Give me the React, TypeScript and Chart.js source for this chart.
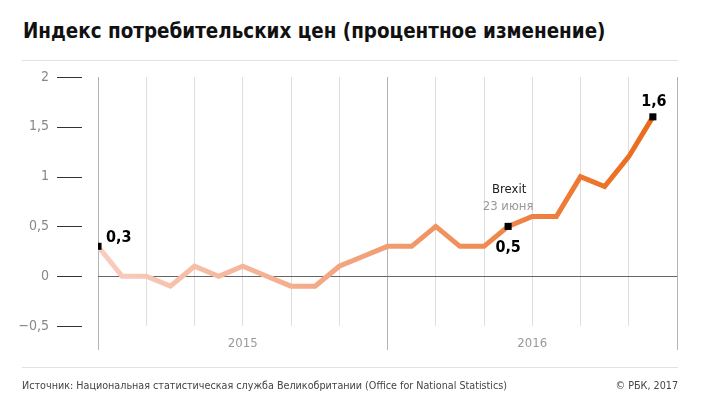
import React, { useEffect, useRef } from "react";
import { Chart, registerables } from "chart.js";

Chart.register(...registerables);

// ---- data ----
const months = [
  "янв 2015", "фев 2015", "мар 2015", "апр 2015", "май 2015", "июн 2015",
  "июл 2015", "авг 2015", "сен 2015", "окт 2015", "ноя 2015", "дек 2015",
  "янв 2016", "фев 2016", "мар 2016", "апр 2016", "май 2016", "июн 2016",
  "июл 2016", "авг 2016", "сен 2016", "окт 2016", "ноя 2016", "дек 2016",
];
const cpi = [
  0.3, 0.0, 0.0, -0.1, 0.1, 0.0, 0.1, 0.0, -0.1, -0.1, 0.1, 0.2,
  0.3, 0.3, 0.5, 0.3, 0.3, 0.5, 0.6, 0.6, 1.0, 0.9, 1.2, 1.6,
];
const yMin = -0.5;
const yMax = 2;
const yStep = 0.5;
const years = ["2015", "2016"];
const yearCenters = [6, 18];
const xMax = 24;
const markedIdx = [0, 17, 23];
const markedLabels = ["0,3", "0,5", "1,6"];
const brexitIdx = 17;
const brexitTitle = "Brexit";
const brexitDate = "23 июня";
const titleText = "Индекс потребительских цен (процентное изменение)";
const sourceText =
  "Источник: Национальная статистическая служба Великобритании (Office for National Statistics)";
const copyrightText = "© РБК, 2017";

const FONT = "'Liberation Sans Narrow', 'DejaVu Sans Condensed', 'Noto Sans', sans-serif";

const fmt = (v: number) => {
  const s = String(v).replace(".", ",");
  return v < 0 ? "\u2212" + s.replace("-", "") : s;
};

const decorPlugin = {
  id: "decor",
  afterDraw(chart: any) {
    const { ctx, chartArea, scales } = chart;
    const xs = scales.x;
    const ys = scales.y;
    ctx.save();
    // y tick marks
    ctx.strokeStyle = "#333";
    ctx.lineWidth = 1;
    ys.ticks.forEach((t: any) => {
      const py = Math.round(ys.getPixelForValue(t.value)) + 0.5;
      ctx.beginPath();
      ctx.moveTo(chartArea.left - 41, py);
      ctx.lineTo(chartArea.left - 16, py);
      ctx.stroke();
    });
    // year labels
    ctx.fillStyle = "#999";
    ctx.font = `13px ${FONT}`;
    ctx.textAlign = "center";
    ctx.textBaseline = "middle";
    years.forEach((y, i) => {
      ctx.fillText(y, xs.getPixelForValue(yearCenters[i]), chartArea.bottom + 18);
    });
    ctx.restore();
  },
  afterDatasetsDraw(chart: any) {
    const { ctx, scales } = chart;
    const xs = scales.x;
    const ys = scales.y;
    ctx.save();
    ctx.textBaseline = "alphabetic";
    ctx.font = `bold 16px ${FONT}`;
    ctx.fillStyle = "#000";
    markedIdx.forEach((idx, k) => {
      const px = xs.getPixelForValue(idx);
      const py = ys.getPixelForValue(cpi[idx]);
      if (k === 0) {
        ctx.textAlign = "left";
        ctx.fillText(markedLabels[k], px + 8, py - 4);
      } else if (idx === brexitIdx) {
        ctx.textAlign = "center";
        ctx.fillText(markedLabels[k], px, py + 26);
      } else {
        ctx.textAlign = "center";
        ctx.fillText(markedLabels[k], px + 1, py - 11);
      }
    });
    const bx = xs.getPixelForValue(brexitIdx);
    const by = ys.getPixelForValue(cpi[brexitIdx]);
    ctx.textAlign = "center";
    ctx.font = `13px ${FONT}`;
    ctx.fillStyle = "#222";
    ctx.fillText(brexitTitle, bx + 1, by - 33);
    ctx.fillStyle = "#999";
    ctx.fillText(brexitDate, bx, by - 16);
    ctx.restore();
  },
};

export default function App() {
  const canvasRef = useRef<HTMLCanvasElement | null>(null);

  useEffect(() => {
    document.body.style.margin = "0";
    const canvas = canvasRef.current;
    if (!canvas) return;
    const chart = new Chart(canvas, {
      type: "line",
      data: {
        labels: months,
        datasets: [
          {
            data: cpi.map((v, i) => ({ x: i, y: v })),
            borderWidth: 5,
            tension: 0,
            borderColor: (c: any) => {
              const ch = c.chart;
              const area = ch.chartArea;
              if (!area) return "#f0a070";
              const xs = ch.scales.x;
              const g = ch.ctx.createLinearGradient(
                xs.getPixelForValue(0), 0, xs.getPixelForValue(cpi.length - 1), 0
              );
              g.addColorStop(0, "#f9cdc1");
              g.addColorStop(0.45, "#f3a47e");
              g.addColorStop(1, "#eb6a1a");
              return g;
            },
            pointStyle: "rect",
            pointRadius: (c: any) => (markedIdx.includes(c.dataIndex) ? 5 : 0),
            pointHoverRadius: 0,
            pointBackgroundColor: "#000",
            pointBorderWidth: 0,
            fill: false,
          },
        ],
      },
      options: {
        animation: false,
        responsive: true,
        maintainAspectRatio: false,
        events: [],
        layout: { padding: { top: 77, right: 24, bottom: 0, left: 0 } },
        plugins: { legend: { display: false }, tooltip: { enabled: false } },
        scales: {
          x: {
            type: "linear",
            min: 0,
            max: xMax,
            ticks: { stepSize: 2, display: false },
            grid: {
              color: (c: any) => (c.tick && c.tick.value % 12 === 0 ? "#b3b3b3" : "#dedede"),
              tickColor: (c: any) => (c.tick && c.tick.value % 12 === 0 ? "#b3b3b3" : "rgba(0,0,0,0)"),
              tickLength: 24,
              drawTicks: true,
              lineWidth: 1,
            },
            border: { display: false },
            afterFit: (s: any) => {
              s.height = 78;
            },
          },
          y: {
            min: yMin,
            max: yMax,
            ticks: {
              stepSize: yStep,
              padding: 49,
              color: "#888",
              font: { family: FONT, size: 14 },
              callback: (v: any) => fmt(Number(v)),
            },
            grid: {
              drawTicks: false,
              color: (c: any) => (c.tick && c.tick.value === 0 ? "#666" : "rgba(0,0,0,0)"),
            },
            border: { display: false },
            afterFit: (s: any) => {
              s.width = 98;
            },
          },
        },
      },
      plugins: [decorPlugin],
    });
    return () => chart.destroy();
  }, []);

  return (
    <div style={{ position: "relative", width: 701, height: 404, background: "#fff", overflow: "hidden" }}>
      <div
        style={{
          position: "absolute",
          left: 23,
          top: 21,
          fontFamily: FONT,
          fontWeight: "bold",
          fontSize: 20.4,
          lineHeight: "21px",
          color: "#111",
          whiteSpace: "nowrap",
        }}
      >
        {titleText}
      </div>
      <div style={{ position: "absolute", left: 22, top: 60, width: 656, height: 1, background: "#e2e2e2" }} />
      <div style={{ position: "absolute", left: 0, top: 0, width: 701, height: 404 }}>
        <canvas ref={canvasRef} />
      </div>
      <div style={{ position: "absolute", left: 22, top: 367, width: 656, height: 1, background: "#e2e2e2" }} />
      <div
        style={{
          position: "absolute",
          left: 22,
          top: 380,
          fontFamily: FONT,
          fontSize: 10.7,
          lineHeight: "11px",
          color: "#444",
          whiteSpace: "nowrap",
        }}
      >
        {sourceText}
      </div>
      <div
        style={{
          position: "absolute",
          right: 23,
          top: 380,
          fontFamily: FONT,
          fontSize: 10.7,
          lineHeight: "11px",
          color: "#444",
          whiteSpace: "nowrap",
        }}
      >
        {copyrightText}
      </div>
    </div>
  );
}
